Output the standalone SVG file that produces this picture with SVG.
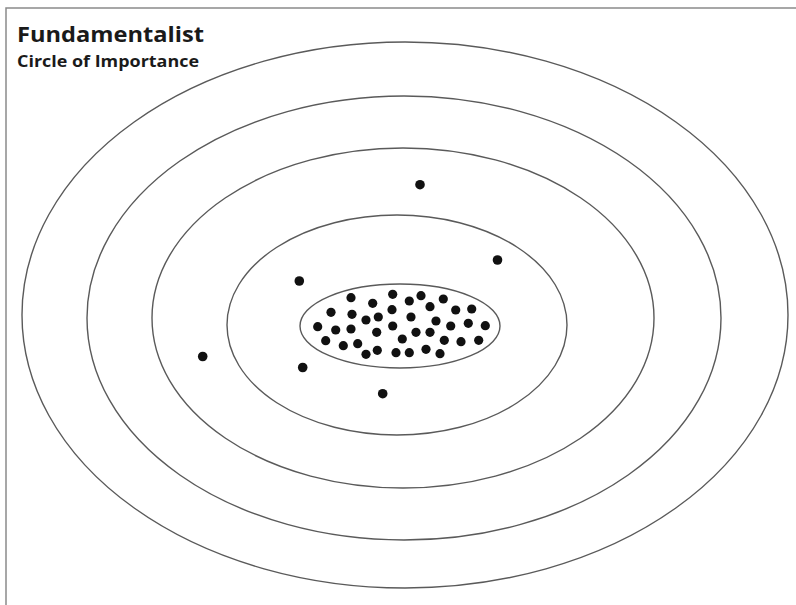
<svg xmlns="http://www.w3.org/2000/svg" width="796" height="605" viewBox="0 0 796 605">
  <style>
    .ring { fill: none; stroke: #5a5a5a; stroke-width: 1.4; }
    .dot { fill: #111; }
    .title { font-family: "Open Sans", "Liberation Sans", Arial, sans-serif; font-weight: bold; fill: #1a1a1a; }
    .frame { fill: none; stroke: #8a8a8a; stroke-width: 1.5; }
  </style>
  <rect width="796" height="605" fill="#ffffff"/>
  <path class="frame" d="M796 8 H6 V605"/>
  <g id="title">
    <text class="title" x="17" y="41.5" font-size="21.5" textLength="187" lengthAdjust="spacingAndGlyphs">Fundamentalist</text>
    <text class="title" x="17" y="66.5" font-size="15.5" textLength="182" lengthAdjust="spacingAndGlyphs">Circle of Importance</text>
  </g>
  <g id="ring1"><ellipse class="ring" cx="405" cy="315" rx="383" ry="273"/></g>
  <g id="ring2"><ellipse class="ring" cx="404" cy="318" rx="317" ry="222"/></g>
  <g id="ring3"><ellipse class="ring" cx="403" cy="318" rx="251" ry="170"/></g>
  <g id="ring4"><ellipse class="ring" cx="397" cy="325" rx="170" ry="110"/></g>
  <g id="core">
    <ellipse class="ring" cx="400" cy="326" rx="100" ry="42"/>
    <g class="dot">
      <circle cx="351" cy="297.7" r="4.6"/>
      <circle cx="372.7" cy="303.3" r="4.6"/>
      <circle cx="392.7" cy="294.3" r="4.6"/>
      <circle cx="409.3" cy="301" r="4.6"/>
      <circle cx="421" cy="295.7" r="4.6"/>
      <circle cx="430" cy="306.7" r="4.6"/>
      <circle cx="443.3" cy="299" r="4.6"/>
      <circle cx="455.7" cy="310" r="4.6"/>
      <circle cx="471.7" cy="309" r="4.6"/>
      <circle cx="331" cy="312.3" r="4.6"/>
      <circle cx="352" cy="314.3" r="4.6"/>
      <circle cx="366" cy="320" r="4.6"/>
      <circle cx="378.3" cy="317" r="4.6"/>
      <circle cx="392" cy="309.7" r="4.6"/>
      <circle cx="411" cy="317" r="4.6"/>
      <circle cx="436" cy="321" r="4.6"/>
      <circle cx="450.7" cy="326" r="4.6"/>
      <circle cx="468.3" cy="323.3" r="4.6"/>
      <circle cx="485.3" cy="325.7" r="4.6"/>
      <circle cx="317.7" cy="326.7" r="4.6"/>
      <circle cx="335.7" cy="330" r="4.6"/>
      <circle cx="351" cy="329" r="4.6"/>
      <circle cx="376.7" cy="332.3" r="4.6"/>
      <circle cx="392.7" cy="326" r="4.6"/>
      <circle cx="416" cy="332.3" r="4.6"/>
      <circle cx="430" cy="332.3" r="4.6"/>
      <circle cx="325.7" cy="340.7" r="4.6"/>
      <circle cx="343.3" cy="345.7" r="4.6"/>
      <circle cx="357.7" cy="343.7" r="4.6"/>
      <circle cx="402.3" cy="339" r="4.6"/>
      <circle cx="444.3" cy="340.3" r="4.6"/>
      <circle cx="461" cy="341.7" r="4.6"/>
      <circle cx="478.7" cy="340.3" r="4.6"/>
      <circle cx="366" cy="354.3" r="4.6"/>
      <circle cx="377.3" cy="350.3" r="4.6"/>
      <circle cx="396" cy="352.7" r="4.6"/>
      <circle cx="409.3" cy="352.7" r="4.6"/>
      <circle cx="426" cy="349.3" r="4.6"/>
      <circle cx="440" cy="353.7" r="4.6"/>
    </g>
  </g>
  <g id="outliers" class="dot">
    <circle cx="420" cy="184.7" r="4.8"/>
    <circle cx="497.5" cy="260" r="4.8"/>
    <circle cx="299.3" cy="281" r="4.8"/>
    <circle cx="202.7" cy="356.5" r="4.8"/>
    <circle cx="302.7" cy="367.5" r="4.8"/>
    <circle cx="382.7" cy="393.7" r="4.8"/>
  </g>
</svg>
